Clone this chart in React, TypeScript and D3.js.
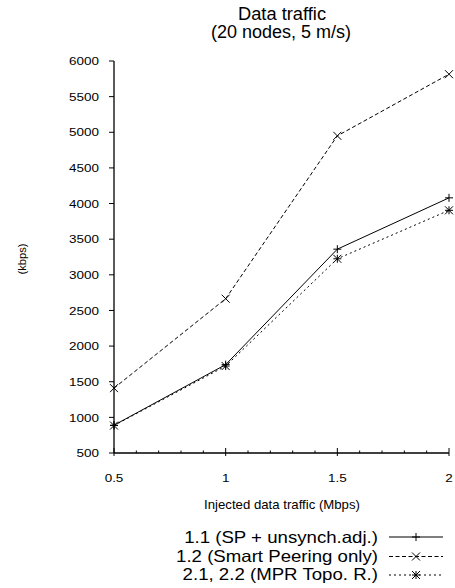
import React from "react";
import * as d3 from "d3";

const xValues = [0.5, 1, 1.5, 2];
const series11 = [890, 1740, 3360, 4080];
const series12 = [1410, 2665, 4950, 5815];
const series21 = [885, 1720, 3225, 3905];
const yTicks = [500, 1000, 1500, 2000, 2500, 3000, 3500, 4000, 4500, 5000, 5500, 6000];
const xTicks = [0.5, 1, 1.5, 2];
const xMinorTicks = [0.6, 0.7, 0.8, 0.9, 1.1, 1.2, 1.3, 1.4, 1.6, 1.7, 1.8, 1.9];
const seriesNames = ["1.1 (SP + unsynch.adj.)", "1.2 (Smart Peering only)", "2.1, 2.2 (MPR Topo. R.)"];

const W = 455;
const H = 588;
const left = 114;
const right = 449;
const top = 61;
const bottom = 453;
const font = "'Liberation Sans', Arial, sans-serif";

function T({
  x,
  y,
  size,
  sx = 1,
  anchor = "start",
  rotate = 0,
  children,
}: {
  x: number;
  y: number;
  size: number;
  sx?: number;
  anchor?: string;
  rotate?: number;
  children: React.ReactNode;
}) {
  return (
    <text
      transform={`translate(${x},${y}) rotate(${rotate}) scale(${sx},1)`}
      textAnchor={anchor}
      fontSize={size}
      fill="#000"
    >
      {children}
    </text>
  );
}

function Marker({ kind, x, y }: { kind: string; x: number; y: number }) {
  const s = 4;
  const plus = `M${x - s},${y}L${x + s},${y}M${x},${y - s}L${x},${y + s}`;
  const cross = `M${x - s},${y - s}L${x + s},${y + s}M${x - s},${y + s}L${x + s},${y - s}`;
  const d = kind === "plus" ? plus : kind === "cross" ? cross : plus + cross;
  return <path d={d} stroke="#000" strokeWidth={1} fill="none" />;
}

export default function App() {
  const x = d3.scaleLinear().domain([0.5, 2]).range([left, right]);
  const y = d3.scaleLinear().domain([500, 6000]).range([bottom, top]);
  const line = d3
    .line<number>()
    .x((_, i) => x(xValues[i]))
    .y((d) => y(d));

  const series = [
    { data: series11, dash: "none", marker: "plus" },
    { data: series12, dash: "4,2.5", marker: "cross" },
    { data: series21, dash: "2,3", marker: "star" },
  ];
  const legendLineY = [537, 556.5, 575];
  const legendTextY = [543, 561.5, 580];

  return (
    <svg
      width={W}
      height={H}
      style={{ position: "absolute", left: 0, top: 0, background: "#fff" }}
      fontFamily={font}
    >
      <rect width={W} height={H} fill="#fff" />
      <T x={282} y={20} size={18.3} anchor="middle">
        Data traffic
      </T>
      <T x={281} y={38} size={18} anchor="middle">
        (20 nodes, 5 m/s)
      </T>

      {/* axes */}
      <line x1={left} y1={top} x2={left} y2={bottom} stroke="#000" strokeWidth={1.3} />
      <line x1={left} y1={bottom} x2={right} y2={bottom} stroke="#000" strokeWidth={1.3} />

      {yTicks.map((t) => (
        <g key={"y" + t}>
          <line x1={left - 5} y1={y(t)} x2={left} y2={y(t)} stroke="#000" />
          <T x={left - 15} y={y(t) + 4.2} size={11.6} sx={1.16} anchor="end">
            {t}
          </T>
        </g>
      ))}

      {xTicks.map((t) => (
        <g key={"x" + t}>
          <line x1={x(t)} y1={bottom + 3} x2={x(t)} y2={bottom - 5} stroke="#000" />
          <T x={x(t)} y={bottom + 28.5} size={11.6} sx={1.16} anchor="middle">
            {t}
          </T>
        </g>
      ))}
      {xMinorTicks.map((t) => (
        <line key={"m" + t} x1={x(t)} y1={bottom} x2={x(t)} y2={bottom - 2.5} stroke="#000" />
      ))}

      <T x={282} y={509} size={13.2} anchor="middle">
        Injected data traffic (Mbps)
      </T>
      <T x={25.5} y={259} size={11.2} anchor="middle" rotate={-90}>
        (kbps)
      </T>

      {/* lines */}
      {series.map((s, i) => (
        <g key={"s" + i}>
          <path d={line(s.data) || ""} fill="none" stroke="#000" strokeWidth={1} strokeDasharray={s.dash} />
          {s.data.map((v, j) => (
            <Marker key={j} kind={s.marker} x={x(xValues[j])} y={y(v)} />
          ))}
        </g>
      ))}

      {/* legend */}
      {series.map((s, i) => (
        <g key={"l" + i}>
          <T x={378} y={legendTextY[i]} size={16.5} sx={1.13} anchor="end">
            {seriesNames[i]}
          </T>
          <line x1={389} y1={legendLineY[i]} x2={443} y2={legendLineY[i]} stroke="#000" strokeDasharray={s.dash} />
          <Marker kind={s.marker} x={416} y={legendLineY[i]} />
        </g>
      ))}
    </svg>
  );
}
